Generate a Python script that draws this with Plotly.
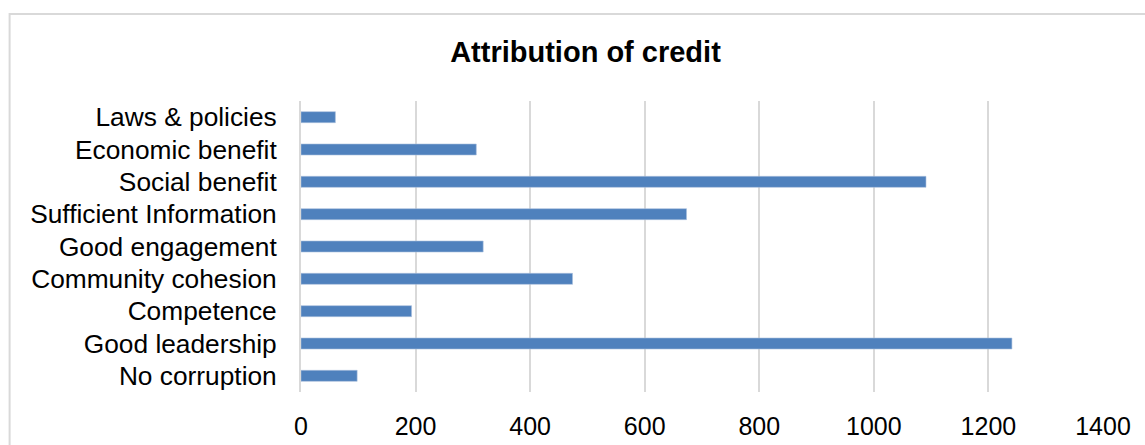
import plotly.graph_objects as go

categories = ["Laws & policies", "Economic benefit", "Social benefit",
              "Sufficient Information", "Good engagement", "Community cohesion",
              "Competence", "Good leadership", "No corruption"]
values = [60, 306, 1091, 673, 318, 474, 193, 1241, 98]
x_ticks = [0, 200, 400, 600, 800, 1000, 1200, 1400]
title_text = "Attribution of credit"

FONT = "Liberation Sans, Arial, sans-serif"
GRID = "#d9d9d9"

fig = go.Figure(go.Bar(
    y=categories, x=values, orientation="h",
    marker=dict(color="#4f81bd", line=dict(color="#a9c0de", width=0.6)),
))

W, H = 1145, 445
l, r, t, b = 301, 41.7, 101, 53
pw = W - l - r
ph = H - t - b

fig.update_layout(
    width=W, height=H,
    margin=dict(l=l, r=r, t=t, b=b, pad=0, autoexpand=False),
    paper_bgcolor="white", plot_bgcolor="white",
    showlegend=False,
    bargap=0.66,
    font=dict(family=FONT, color="black", size=26),
    title=dict(text="<b>" + title_text + "</b>", x=585.5 / W, xanchor="center",
               y=1 - 52 / H, yanchor="middle",
               font=dict(family=FONT, size=29, color="black")),
    xaxis=dict(range=[0, 1400], tickvals=x_ticks, showgrid=True, gridcolor=GRID,
               gridwidth=2, zeroline=False, showline=False, automargin=False,
               ticklabelstandoff=17, tickfont=dict(size=25, family=FONT, color="black")),
    yaxis=dict(autorange="reversed", showgrid=False, showline=True, linecolor=GRID,
               linewidth=2, ticks="", ticklabelstandoff=17, automargin=False,
               tickfont=dict(size=26.3, family=FONT, color="black")),
    shapes=[dict(type="rect", xref="paper", yref="paper",
                 x0=(9.5 - l) / pw, x1=1.2, y0=-0.5, y1=(H - b - 14) / ph,
                 line=dict(color=GRID, width=2), fillcolor="rgba(0,0,0,0)",
                 layer="below")],
)

fig.write_html("out.html")
